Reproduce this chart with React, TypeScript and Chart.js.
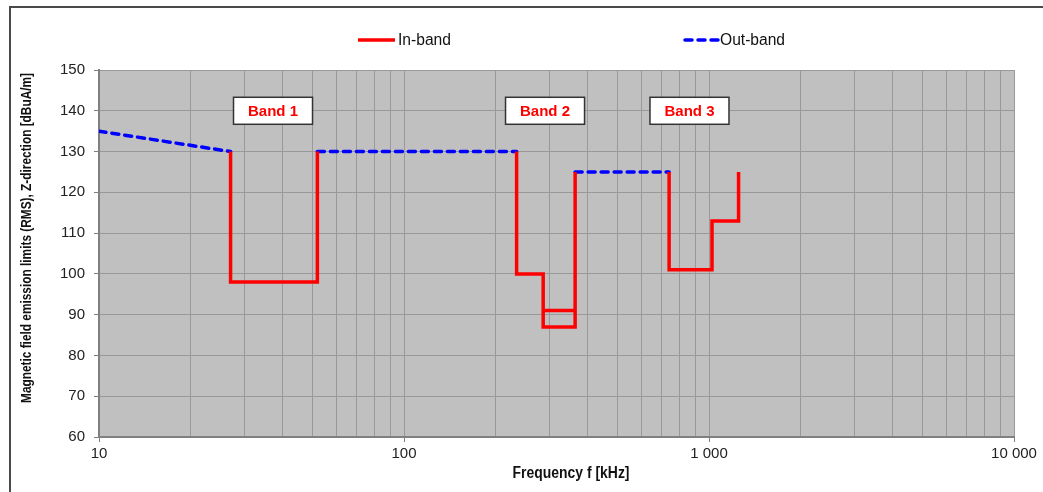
import React, { useEffect, useRef } from "react";
import { Chart, registerables } from "chart.js";

Chart.register(...registerables);

// ---- data ----
const band1Freq = [27, 27, 52, 52];
const band1Level = [130, 98, 98, 130];
const band2Freq = [234, 234, 286, 286, 364, 364];
const band2Level = [130, 100, 100, 87, 87, 125];
const band2InnerFreq = [286, 364];
const band2InnerLevel = [91, 91];
const band3Freq = [740, 740, 1023, 1023, 1250, 1250];
const band3Level = [125, 101, 101, 113, 113, 125];

const outSeg1Freq = [10, 27];
const outSeg1Level = [135, 130];
const outSeg2Freq = [52, 234];
const outSeg2Level = [130, 130];
const outSeg3Freq = [364, 740];
const outSeg3Level = [125, 125];

const bandLabels = ["Band 1", "Band 2", "Band 3"];
const bandLabelFreq = [37.2, 290, 863];
const bandLabelLevel = [140, 140, 140];

const xMajorTicks = [10, 100, 1000, 10000];
const xTickLabels = ["10", "100", "1 000", "10 000"];
const xMinorSteps = [2, 3, 4, 5, 6, 7, 8, 9];
const yMin = 60;
const yMax = 150;
const yStep = 10;

const legendLabels = ["In-band", "Out-band"];
const xTitle = "Frequency f [kHz]";
const yTitle = "Magnetic field emission limits (RMS), Z-direction [dBuA/m]";

const FONT = '"Liberation Sans", Arial, sans-serif';

function segments(list: [number[], number[]][]) {
  const out: { x: number; y: number | null }[] = [];
  list.forEach(([fx, ly], i) => {
    if (i > 0) out.push({ x: fx[0], y: null });
    fx.forEach((f, j) => out.push({ x: f, y: ly[j] }));
  });
  return out;
}

// draw text condensed horizontally to a target width (narrow font look)
function narrowText(ctx: CanvasRenderingContext2D, text: string, x: number, y: number, targetW: number, align: "left" | "center") {
  const w = ctx.measureText(text).width;
  const s = targetW / w;
  ctx.save();
  ctx.translate(x, y);
  ctx.scale(s, 1);
  ctx.textAlign = align;
  ctx.fillText(text, 0, 0);
  ctx.restore();
}

const decorPlugin = {
  id: "decor",
  beforeDraw(chart: any) {
    const { ctx, chartArea: a } = chart;
    ctx.save();
    ctx.fillStyle = "#c0c0c0";
    ctx.fillRect(a.left, a.top, a.right - a.left, a.bottom - a.top);
    ctx.restore();
  },
  afterDraw(chart: any) {
    const { ctx } = chart;
    const xs = chart.scales.x;
    const ys = chart.scales.y;
    ctx.save();
    // band labels
    bandLabels.forEach((lab, i) => {
      const cx = xs.getPixelForValue(bandLabelFreq[i]);
      const cy = ys.getPixelForValue(bandLabelLevel[i]);
      const w = 79;
      const h = 27;
      ctx.fillStyle = "#ffffff";
      ctx.fillRect(cx - w / 2, cy - h / 2, w, h);
      ctx.strokeStyle = "#333333";
      ctx.lineWidth = 1.5;
      ctx.strokeRect(cx - w / 2, cy - h / 2, w, h);
      ctx.fillStyle = "#ff0000";
      ctx.font = "bold 15px " + FONT;
      ctx.textAlign = "center";
      ctx.textBaseline = "middle";
      ctx.fillText(lab, cx, cy + 1);
    });
    // legend
    const ly = 40;
    ctx.lineWidth = 3.5;
    ctx.strokeStyle = "#ff0000";
    ctx.setLineDash([]);
    ctx.beginPath();
    ctx.moveTo(358, ly);
    ctx.lineTo(395, ly);
    ctx.stroke();
    ctx.strokeStyle = "#0000ff";
    ctx.lineCap = "round";
    ctx.setLineDash([7, 6]);
    ctx.beginPath();
    ctx.moveTo(685, ly);
    ctx.lineTo(718, ly);
    ctx.stroke();
    ctx.setLineDash([]);
    ctx.fillStyle = "#111111";
    ctx.font = "16px " + FONT;
    ctx.textBaseline = "middle";
    narrowText(ctx, legendLabels[0], 398, ly + 1, 53, "left");
    narrowText(ctx, legendLabels[1], 720, ly + 1, 65, "left");
    // axis titles
    ctx.font = "bold 16px " + FONT;
    narrowText(ctx, xTitle, 571, 474, 117, "center");
    ctx.translate(27, 238);
    ctx.rotate(-Math.PI / 2);
    ctx.font = "bold 14px " + FONT;
    narrowText(ctx, yTitle, 0, 0, 330, "center");
    ctx.restore();
  },
};

export default function App() {
  const ref = useRef<HTMLCanvasElement | null>(null);
  useEffect(() => {
    if (!ref.current) return;
    const inBand = segments([
      [band1Freq, band1Level],
      [band2Freq, band2Level],
      [band2InnerFreq, band2InnerLevel],
      [band3Freq, band3Level],
    ]);
    const outBand = segments([
      [outSeg1Freq, outSeg1Level],
      [outSeg2Freq, outSeg2Level],
      [outSeg3Freq, outSeg3Level],
    ]);
    const chart = new Chart(ref.current, {
      type: "line",
      data: {
        datasets: [
          {
            label: legendLabels[0],
            data: inBand as any,
            borderColor: "#ff0000",
            borderWidth: 3.5,
            pointRadius: 0,
            tension: 0,
            spanGaps: false,
            borderJoinStyle: "miter",
            borderCapStyle: "butt",
          },
          {
            label: legendLabels[1],
            data: outBand as any,
            borderColor: "#0000ff",
            borderWidth: 3.5,
            borderDash: [7, 6],
            borderCapStyle: "round",
            pointRadius: 0,
            tension: 0,
            spanGaps: false,
          },
        ],
      },
      options: {
        responsive: false,
        animation: false,
        layout: { padding: { top: 70, right: 29, bottom: 0, left: 0 } },
        plugins: {
          legend: { display: false },
          tooltip: { enabled: false },
          title: { display: false },
        },
        scales: {
          x: {
            type: "logarithmic",
            min: 10,
            max: 10000,
            afterBuildTicks: (scale: any) => {
              const t: any[] = [];
              xMajorTicks.forEach((m, i) => {
                t.push({ value: m, major: true });
                if (i < xMajorTicks.length - 1) xMinorSteps.forEach((s) => t.push({ value: m * s, major: false }));
              });
              scale.ticks = t;
            },
            afterFit: (scale: any) => {
              scale.height = 492 - 437;
            },
            grid: {
              color: "#999999",
              lineWidth: 1,
              tickLength: 5,
              tickColor: (c: any) => (c.tick && c.tick.major ? "#808080" : "rgba(0,0,0,0)"),
            },
            border: { color: "#808080", width: 2 },
            ticks: {
              autoSkip: false,
              maxRotation: 0,
              padding: 3,
              color: "#222222",
              font: { family: FONT, size: 15 },
              callback: (v: any) => {
                const i = xMajorTicks.indexOf(Number(v));
                return i >= 0 ? xTickLabels[i] : "";
              },
            },
          },
          y: {
            type: "linear",
            min: yMin,
            max: yMax,
            afterFit: (scale: any) => {
              scale.width = 99;
            },
            grid: { color: "#999999", lineWidth: 1, tickLength: 5, tickColor: "#808080" },
            border: { color: "#808080", width: 2 },
            ticks: {
              stepSize: yStep,
              padding: 9,
              color: "#222222",
              font: { family: FONT, size: 15 },
            },
          },
        },
      },
      plugins: [decorPlugin],
    } as any);
    return () => chart.destroy();
  }, []);

  return (
    <div style={{ position: "absolute", left: 0, top: 0, width: 1043, height: 492, overflow: "hidden", background: "#fff" }}>
      <div
        style={{
          position: "absolute",
          left: 9,
          top: 6,
          width: 1060,
          height: 520,
          border: "2px solid #4a4a4a",
          boxSizing: "border-box",
        }}
      />
      <canvas ref={ref} width={1043} height={492} style={{ position: "absolute", left: 0, top: 0, width: 1043, height: 492 }} />
    </div>
  );
}
